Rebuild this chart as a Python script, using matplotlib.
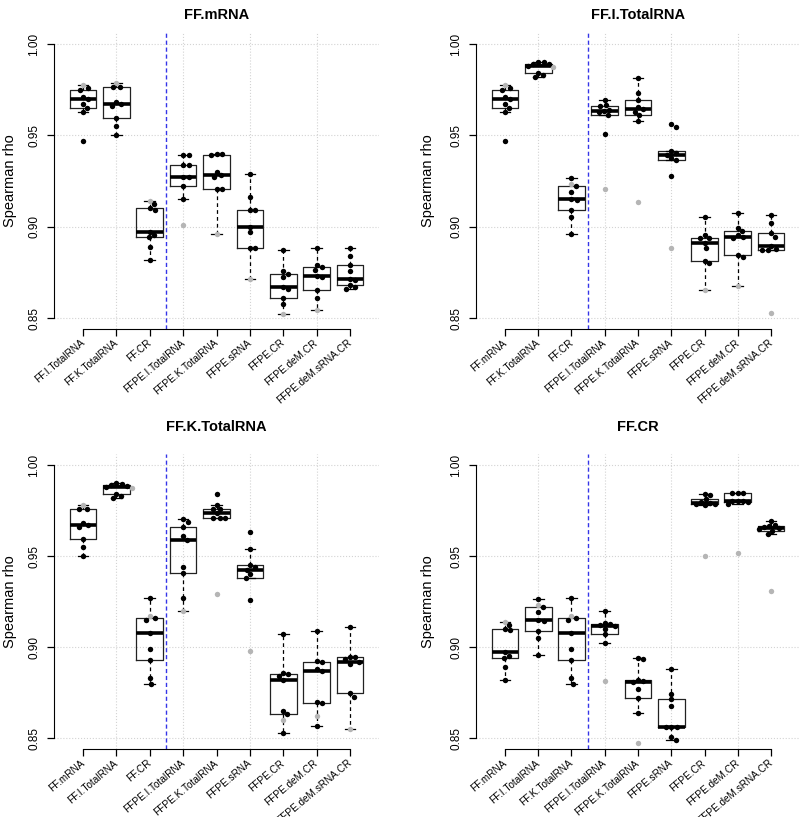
import numpy as np
import matplotlib
matplotlib.use("Agg")
import matplotlib.pyplot as plt

plt.rcParams["font.family"] = ["Liberation Sans", "DejaVu Sans"]

# FF vs FF correlations (each one shows up in two panels)
mrna_vs_i = [0.976, 0.975, 0.971, 0.970, 0.967, 0.965, 0.963, 0.947]
mrna_vs_k = [0.9762, 0.9762, 0.9681, 0.967, 0.9661, 0.9597, 0.955, 0.950]
mrna_vs_cr = [0.9123, 0.910, 0.9093, 0.8973, 0.8953, 0.8942, 0.889, 0.882]
i_vs_k = [0.9902, 0.9900, 0.9890, 0.9888, 0.9880, 0.9843, 0.9830, 0.9821]
i_vs_cr = [0.9266, 0.922, 0.9192, 0.9151, 0.9147, 0.9089, 0.9052, 0.896]
k_vs_cr = [0.9273, 0.9161, 0.915, 0.9081, 0.8989, 0.893, 0.8829, 0.880]

ffpe = ["FFPE.I.TotalRNA", "FFPE.K.TotalRNA", "FFPE.sRNA", "FFPE.CR",
        "FFPE.deM.CR", "FFPE.deM.sRNA.CR"]

titles = ["FF.mRNA", "FF.I.TotalRNA", "FF.K.TotalRNA", "FF.CR"]
labels = [["FF.I.TotalRNA", "FF.K.TotalRNA", "FF.CR"] + ffpe,
          ["FF.mRNA", "FF.K.TotalRNA", "FF.CR"] + ffpe,
          ["FF.mRNA", "FF.I.TotalRNA", "FF.CR"] + ffpe,
          ["FF.mRNA", "FF.I.TotalRNA", "FF.K.TotalRNA"] + ffpe]

# black points per box
mrna_black = [mrna_vs_i, mrna_vs_k, mrna_vs_cr,
              [0.939, 0.939, 0.934, 0.934, 0.927, 0.927, 0.922, 0.915],
              [0.9399, 0.9399, 0.9394, 0.9298, 0.9284, 0.9271, 0.9207, 0.9207],
              [0.929, 0.9161, 0.9091, 0.9091, 0.900, 0.8969, 0.8881, 0.8881],
              [0.8872, 0.8758, 0.874, 0.8722, 0.867, 0.866, 0.8612, 0.8579],
              [0.8881, 0.879, 0.878, 0.8762, 0.873, 0.8725, 0.8652, 0.8612],
              [0.8881, 0.8839, 0.879, 0.8758, 0.8716, 0.871, 0.8682, 0.867, 0.866]]
itot_black = [mrna_vs_i, i_vs_k, i_vs_cr,
              [0.9693, 0.9664, 0.966, 0.964, 0.9632, 0.9625, 0.9611, 0.951],
              [0.9812, 0.973, 0.9693, 0.9655, 0.9643, 0.963, 0.9611, 0.958],
              [0.9562, 0.9544, 0.9414, 0.9402, 0.9395, 0.9374, 0.9365, 0.928],
              [0.9053, 0.8955, 0.8937, 0.8937, 0.8913, 0.8885, 0.8814, 0.8803],
              [0.9073, 0.8995, 0.8976, 0.8955, 0.8945, 0.894, 0.8843, 0.8836],
              [0.9062, 0.9022, 0.8964, 0.8945, 0.8894, 0.8878, 0.887, 0.887]]
ktot_black = [mrna_vs_k, i_vs_k, k_vs_cr,
              [0.9703, 0.969, 0.9661, 0.9611, 0.9589, 0.944, 0.941, 0.9273],
              [0.9842, 0.9783, 0.9762, 0.9762, 0.9736, 0.9712, 0.9712, 0.9712],
              [0.9632, 0.9542, 0.945, 0.944, 0.9425, 0.9401, 0.9382, 0.9259],
              [0.9073, 0.8861, 0.8852, 0.8843, 0.8819, 0.8651, 0.8632, 0.8531],
              [0.9091, 0.8926, 0.8917, 0.888, 0.8872, 0.8701, 0.8692, 0.8569],
              [0.9113, 0.8944, 0.8944, 0.8935, 0.8921, 0.891, 0.8751, 0.8729]]
cr_black = [mrna_vs_cr, i_vs_cr, k_vs_cr,
            [0.9201, 0.9132, 0.913, 0.9125, 0.9119, 0.9101, 0.9071, 0.9022],
            [0.8943, 0.8936, 0.882, 0.8815, 0.8812, 0.8771, 0.872, 0.864],
            [0.8881, 0.8744, 0.8714, 0.8679, 0.8563, 0.8563, 0.8563, 0.8509, 0.8491],
            [0.9842, 0.9837, 0.9813, 0.980, 0.9795, 0.979, 0.9785, 0.978],
            [0.9846, 0.9846, 0.9846, 0.9805, 0.9804, 0.9802, 0.9796, 0.9786],
            [0.9692, 0.9672, 0.9664, 0.966, 0.9654, 0.965, 0.964, 0.9622]]

# the grey sample per box (None = not visible)
mrna_grey = [0.9775, 0.9784, 0.9141, 0.901, 0.896, 0.8713, 0.852, 0.8543, None]
itot_grey = [0.9775, 0.9876, 0.9235, 0.9205, 0.9134, 0.8885, 0.8654, 0.8675, 0.8526]
ktot_grey = [0.9784, 0.9876, 0.9172, 0.9201, 0.9291, 0.8981, 0.8601, 0.8622, 0.8553]
cr_grey = [0.9141, 0.9235, 0.9172, 0.8813, 0.8473, None, 0.9502, 0.952, 0.9309]

blacks = [mrna_black, itot_black, ktot_black, cr_black]
greys = [mrna_grey, itot_grey, ktot_grey, cr_grey]

rects = [[0.0679, 0.5973, 0.4055, 0.3623], [0.5955, 0.5973, 0.404, 0.3623],
         [0.0679, 0.0830, 0.4055, 0.3608], [0.5955, 0.0830, 0.404, 0.3608]]
title_y = [1.061, 1.061, 1.094, 1.094]
ylab_x = [-0.115, -0.128, -0.115, -0.128]


def swarm(vals, xpx=33.4, ypx=1825.0, d=5.4):
    # simple beeswarm, offsets in box units
    order = np.argsort(vals)[::-1]
    placed = []
    offs = np.zeros(len(vals))
    for i in order:
        y = vals[i] * ypx
        cands = [0.0]
        for px, py in placed:
            dy = abs(py - y)
            if dy < d:
                dx = np.sqrt(d ** 2 - dy ** 2)
                cands += [px + dx, px - dx]
        cands.sort(key=lambda c: (abs(c), -c))
        for c in cands:
            if all((c - px) ** 2 + (y - py) ** 2 >= d ** 2 - 1e-6 for px, py in placed):
                break
        placed.append((c, y))
        offs[i] = c / xpx
    return offs


fig = plt.figure(figsize=(8, 8.17), dpi=100)

for p in range(4):
    ax = fig.add_axes(rects[p])
    black = blacks[p]
    grey = greys[p]
    data = [b + ([g] if g is not None else []) for b, g in zip(black, grey)]
    pos = np.arange(1, 10)

    for v in [0.85, 0.90, 0.95, 1.00]:
        ax.axhline(v, color="lightgray", ls=":", lw=0.8, zorder=0)
    for v in [2, 4, 6, 8]:
        ax.axvline(v, color="lightgray", ls=":", lw=0.8, zorder=0)

    ax.boxplot(data, positions=pos, widths=0.8, whis=1.5, showfliers=False,
               capwidths=0.32,
               boxprops=dict(color="#222222", lw=0.9),
               medianprops=dict(color="black", lw=2.6),
               whiskerprops=dict(color="black", lw=0.9, ls=(0, (3, 2.5))),
               capprops=dict(color="black", lw=0.9),
               zorder=2)

    for k, vals in enumerate(data):
        vals = np.array(vals)
        offs = swarm(vals)
        n_black = len(black[k])
        ax.plot(pos[k] + offs[:n_black], vals[:n_black], "o", color="black",
                ms=3.9, mew=0, zorder=4)
        if grey[k] is not None:
            ax.plot(pos[k] + offs[n_black:], vals[n_black:], "o", color="#b5b5b5",
                    ms=3.9, mew=0, zorder=3)

    ax.axvline(3.5, color="#3535e8", ls=(0, (3, 2)), lw=1, zorder=1)

    ax.set_xlim(0.14, 9.86)
    ax.set_ylim(0.844, 1.006)
    for s in ["top", "right"]:
        ax.spines[s].set_visible(False)
    ax.spines["left"].set_bounds(0.85, 1.0)
    ax.spines["bottom"].set_bounds(1, 9)

    ax.set_yticks([0.85, 0.90, 0.95, 1.00])
    ax.set_yticklabels(["0.85", "0.90", "0.95", "1.00"], rotation=90, va="center",
                       fontsize=8.5)
    ax.set_xticks(pos)
    ax.set_xticklabels(labels[p], rotation=40, ha="right", va="center",
                       rotation_mode="anchor", fontsize=7.2)
    ax.tick_params(axis="x", length=5, width=0.9, pad=4)
    ax.tick_params(axis="y", length=5, width=0.9, pad=5)

    ax.set_ylabel("Spearman rho", fontsize=10.5)
    ax.yaxis.set_label_coords(ylab_x[p], 0.5)
    ax.set_title(titles[p], fontsize=10.5, fontweight="bold", y=title_y[p],
                 va="center", pad=0)

fig.savefig("out.png", dpi=100)
